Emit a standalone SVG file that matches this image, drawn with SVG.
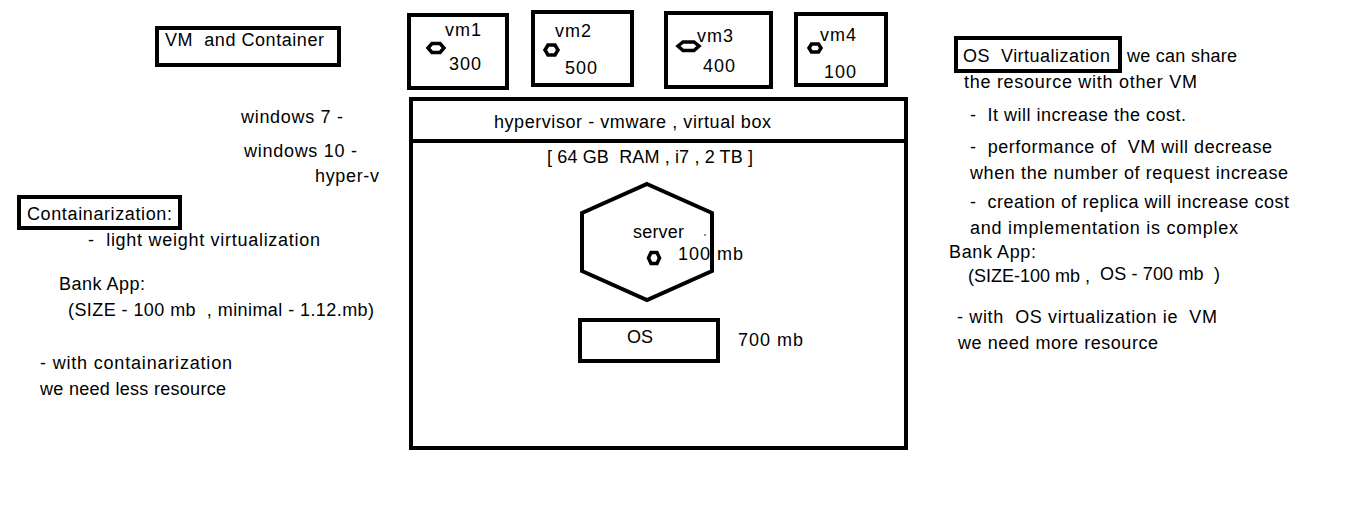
<svg xmlns="http://www.w3.org/2000/svg" width="1360" height="509" viewBox="0 0 1360 509">
<style>
text{font-family:"Liberation Sans",Arial,sans-serif;font-size:18px;fill:#000;white-space:pre}
.b{fill:none;stroke:#000;stroke-width:4}
.h{fill:#fff;stroke:#000;stroke-width:3.5}
</style>
<rect width="1360" height="509" fill="#fff"/>
<g id="title"><rect class="b" x="157" y="28" width="182" height="37"/><text x="165" y="46" textLength="159" lengthAdjust="spacing">VM  and Container</text></g>
<g id="vm1"><rect class="b" x="409" y="15" width="98" height="73"/><text x="445" y="36" textLength="36">vm1</text><polygon class="h" points="428,48 432,43.5 440,43.5 444,48 440,52.5 432,52.5"/><text x="449" y="70" textLength="32">300</text></g>
<g id="vm2"><rect class="b" x="533" y="12" width="99" height="73"/><text x="555" y="37" textLength="36">vm2</text><polygon class="h" points="545,50 548,45 555,45 558,50 555,55 548,55"/><text x="565" y="74" textLength="32">500</text></g>
<g id="vm3"><rect class="b" x="666" y="13" width="105" height="74"/><text x="697" y="42" textLength="36">vm3</text><polygon class="h" points="678,46 683,42 694,42 699,46 694,50.5 683,50.5"/><text x="703" y="72" textLength="32">400</text></g>
<g id="vm4"><rect class="b" x="796" y="14" width="90" height="71"/><text x="820" y="41" textLength="36">vm4</text><polygon class="h" points="809,48 811.5,44 818.5,44 821,48 818.5,52 811.5,52"/><text x="824" y="78" textLength="32">100</text></g>
<g id="hypervisor"><rect class="b" x="411" y="99" width="495" height="349"/><line x1="411" y1="141" x2="906" y2="141" stroke="#000" stroke-width="4"/><text x="494" y="128" textLength="277" lengthAdjust="spacing">hypervisor - vmware , virtual box</text><text x="547" y="163" textLength="206" lengthAdjust="spacing">[ 64 GB  RAM , i7 , 2 TB ]</text></g>
<g id="server"><polygon class="b" points="647,184 712,213 712,271 647,300 582,271 582,213"/><text x="633" y="238" textLength="51">server</text><polygon class="h" points="648.5,258 651,252.5 657,252.5 659.5,258 657,263.5 651,263.5"/><text x="678" y="260" textLength="65" lengthAdjust="spacing">100 mb</text><circle cx="705" cy="235" r="0.8" fill="#000"/></g>
<g id="os"><rect class="b" x="580" y="320" width="138" height="41"/><text x="627" y="343">OS</text><text x="738" y="346" textLength="65" lengthAdjust="spacing">700 mb</text></g>
<g id="left-notes">
<text x="241" y="123" textLength="102" lengthAdjust="spacing">windows 7 -</text>
<text x="244" y="157" textLength="113" lengthAdjust="spacing">windows 10 -</text>
<text x="315" y="182" textLength="64" lengthAdjust="spacing">hyper-v</text>
</g>
<g id="containarization"><rect class="b" x="19" y="197" width="161" height="31"/><text x="27" y="220" textLength="145" lengthAdjust="spacing">Containarization:</text>
<text x="88" y="246" textLength="232" lengthAdjust="spacing">-  light weight virtualization</text>
<text x="59" y="290" textLength="86" lengthAdjust="spacing">Bank App:</text>
<text x="68" y="316" textLength="306" lengthAdjust="spacing">(SIZE - 100 mb  , minimal - 1.12.mb)</text>
<text x="40" y="369" textLength="192" lengthAdjust="spacing">- with containarization</text>
<text x="40" y="395" textLength="186" lengthAdjust="spacing">we need less resource</text>
</g>
<g id="os-virtualization"><rect class="b" x="956" y="38" width="164" height="33"/><text x="963" y="62" textLength="147" lengthAdjust="spacing">OS  Virtualization</text>
<text x="1127" y="62" textLength="110" lengthAdjust="spacing">we can share</text>
<text x="964" y="88" textLength="233" lengthAdjust="spacing">the resource with other VM</text>
<text x="970" y="121" textLength="216" lengthAdjust="spacing">-  It will increase the cost.</text>
<text x="970" y="153" textLength="302" lengthAdjust="spacing">-  performance of  VM will decrease</text>
<text x="970" y="179" textLength="318" lengthAdjust="spacing">when the number of request increase</text>
<text x="970" y="208" textLength="319" lengthAdjust="spacing">-  creation of replica will increase cost</text>
<text x="970" y="234" textLength="268" lengthAdjust="spacing">and implementation is complex</text>
<text x="949" y="258" textLength="87" lengthAdjust="spacing">Bank App:</text>
<text x="968" y="282">(SIZE-100 mb ,</text>
<text x="1100" y="280" textLength="120" lengthAdjust="spacing">OS - 700 mb  )</text>
<text x="957" y="323" textLength="260" lengthAdjust="spacing">- with  OS virtualization ie  VM</text>
<text x="958" y="349" textLength="200" lengthAdjust="spacing">we need more resource</text>
</g>
<g id="connectors"></g>
</svg>
